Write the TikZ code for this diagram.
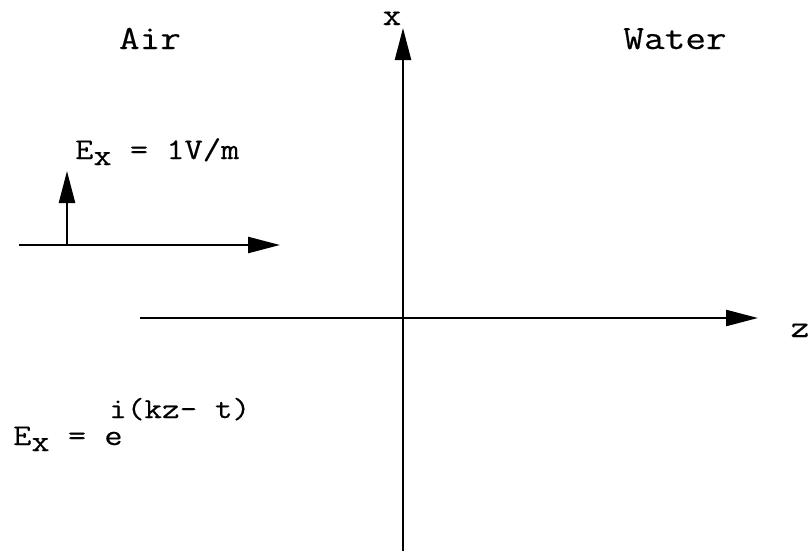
\documentclass[tikz,border=0pt]{standalone}
\usepackage{fontspec}
\newfontfamily\cour{Latin Modern Mono}[FakeStretch=1.18,FakeBold=0.4]
\usetikzlibrary{arrows.meta}
\begin{document}
\begin{tikzpicture}[x=1pt,y=-1pt,
  axis/.style={line width=2.4pt,-{Triangle[length=32pt,width=16pt]}},
  lbl/.style={inner sep=0pt,anchor=base west,font=\cour\fontsize{30}{30}\selectfont},
  big/.style={inner sep=0pt,anchor=base,font=\cour\fontsize{34}{34}\selectfont},
  axl/.style={inner sep=0pt,anchor=base,font=\cour\fontsize{31}{31}\selectfont}]
\useasboundingbox (0,0) rectangle (811,554);
% main axes
\coordinate (zl) at (140,318);
\coordinate (zr) at (758,318);
\coordinate (xb) at (403,551);
\coordinate (xt) at (403,28);
\draw[axis] (zl) -- (zr);
\draw[axis] (xb) -- (xt);
\node[axl] (xlab) at (392,25) {x};
\node[axl] (zlab) at (800,337) {z};
\node[big] (air) at (150,49) {Air};
\node[big] (water) at (675,49) {Water};
% small wave sketch
\coordinate (hl) at (19,245);
\coordinate (hr) at (280,245);
\coordinate (vb) at (67,245);
\coordinate (vt) at (67,171);
\draw[axis] (hl) -- (hr);
\draw[axis] (vb) -- (vt);
\node[lbl] (ex1) at (75,159) {E\raisebox{-6pt}{x} = 1V/m};
% formula
\node[lbl] (ex2) at (13,445) {E\raisebox{-6pt}{x} = e};
\node[lbl,font=\cour\fontsize{29}{29}\selectfont] (sup) at (109,418) {i(kz- t)};
\end{tikzpicture}
\end{document}
